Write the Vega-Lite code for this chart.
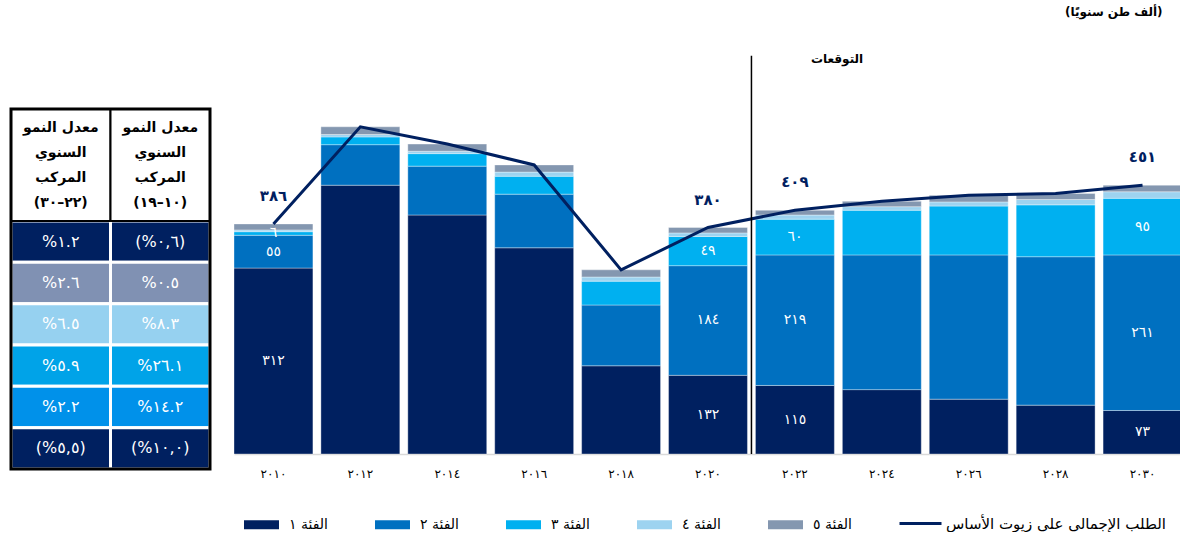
{
  "$schema": "https://vega.github.io/schema/vega-lite/v6.json",
  "padding": {"left": 9, "top": 5, "right": 0, "bottom": 0},
  "background": "white",
  "spacing": 24,
  "bounds": "flush",
  "config": {"font": "DejaVu Sans", "view": {"stroke": null}},
  "resolve": {
    "scale": {"x": "independent", "y": "independent", "fill": "independent", "stroke": "independent"},
    "legend": {"fill": "independent", "stroke": "independent"}
  },
  "datasets": {
    "bars": [
      {"year": "٢٠١٠", "group": "الفئة ١", "v": 312, "lab": "٣١٢"},
      {"year": "٢٠١٠", "group": "الفئة ٢", "v": 55, "lab": "٥٥"},
      {"year": "٢٠١٠", "group": "الفئة ٣", "v": 6, "lab": "٦"},
      {"year": "٢٠١٠", "group": "الفئة ٤", "v": 3, "lab": ""},
      {"year": "٢٠١٠", "group": "الفئة ٥", "v": 10, "lab": ""},
      {"year": "٢٠١٢", "group": "الفئة ١", "v": 451, "lab": ""},
      {"year": "٢٠١٢", "group": "الفئة ٢", "v": 68, "lab": ""},
      {"year": "٢٠١٢", "group": "الفئة ٣", "v": 13, "lab": ""},
      {"year": "٢٠١٢", "group": "الفئة ٤", "v": 4, "lab": ""},
      {"year": "٢٠١٢", "group": "الفئة ٥", "v": 13, "lab": ""},
      {"year": "٢٠١٤", "group": "الفئة ١", "v": 401, "lab": ""},
      {"year": "٢٠١٤", "group": "الفئة ٢", "v": 82, "lab": ""},
      {"year": "٢٠١٤", "group": "الفئة ٣", "v": 21, "lab": ""},
      {"year": "٢٠١٤", "group": "الفئة ٤", "v": 4, "lab": ""},
      {"year": "٢٠١٤", "group": "الفئة ٥", "v": 12, "lab": ""},
      {"year": "٢٠١٦", "group": "الفئة ١", "v": 346, "lab": ""},
      {"year": "٢٠١٦", "group": "الفئة ٢", "v": 90, "lab": ""},
      {"year": "٢٠١٦", "group": "الفئة ٣", "v": 30, "lab": ""},
      {"year": "٢٠١٦", "group": "الفئة ٤", "v": 7, "lab": ""},
      {"year": "٢٠١٦", "group": "الفئة ٥", "v": 12, "lab": ""},
      {"year": "٢٠١٨", "group": "الفئة ١", "v": 148, "lab": ""},
      {"year": "٢٠١٨", "group": "الفئة ٢", "v": 102, "lab": ""},
      {"year": "٢٠١٨", "group": "الفئة ٣", "v": 40, "lab": ""},
      {"year": "٢٠١٨", "group": "الفئة ٤", "v": 7, "lab": ""},
      {"year": "٢٠١٨", "group": "الفئة ٥", "v": 12, "lab": ""},
      {"year": "٢٠٢٠", "group": "الفئة ١", "v": 132, "lab": "١٣٢"},
      {"year": "٢٠٢٠", "group": "الفئة ٢", "v": 184, "lab": "١٨٤"},
      {"year": "٢٠٢٠", "group": "الفئة ٣", "v": 49, "lab": "٤٩"},
      {"year": "٢٠٢٠", "group": "الفئة ٤", "v": 6, "lab": ""},
      {"year": "٢٠٢٠", "group": "الفئة ٥", "v": 9, "lab": ""},
      {"year": "٢٠٢٢", "group": "الفئة ١", "v": 115, "lab": "١١٥"},
      {"year": "٢٠٢٢", "group": "الفئة ٢", "v": 219, "lab": "٢١٩"},
      {"year": "٢٠٢٢", "group": "الفئة ٣", "v": 60, "lab": "٦٠"},
      {"year": "٢٠٢٢", "group": "الفئة ٤", "v": 7, "lab": ""},
      {"year": "٢٠٢٢", "group": "الفئة ٥", "v": 8, "lab": ""},
      {"year": "٢٠٢٤", "group": "الفئة ١", "v": 108, "lab": ""},
      {"year": "٢٠٢٤", "group": "الفئة ٢", "v": 226, "lab": ""},
      {"year": "٢٠٢٤", "group": "الفئة ٣", "v": 75, "lab": ""},
      {"year": "٢٠٢٤", "group": "الفئة ٤", "v": 6, "lab": ""},
      {"year": "٢٠٢٤", "group": "الفئة ٥", "v": 9, "lab": ""},
      {"year": "٢٠٢٦", "group": "الفئة ١", "v": 92, "lab": ""},
      {"year": "٢٠٢٦", "group": "الفئة ٢", "v": 242, "lab": ""},
      {"year": "٢٠٢٦", "group": "الفئة ٣", "v": 82, "lab": ""},
      {"year": "٢٠٢٦", "group": "الفئة ٤", "v": 7, "lab": ""},
      {"year": "٢٠٢٦", "group": "الفئة ٥", "v": 11, "lab": ""},
      {"year": "٢٠٢٨", "group": "الفئة ١", "v": 82, "lab": ""},
      {"year": "٢٠٢٨", "group": "الفئة ٢", "v": 249, "lab": ""},
      {"year": "٢٠٢٨", "group": "الفئة ٣", "v": 87, "lab": ""},
      {"year": "٢٠٢٨", "group": "الفئة ٤", "v": 9, "lab": ""},
      {"year": "٢٠٢٨", "group": "الفئة ٥", "v": 10, "lab": ""},
      {"year": "٢٠٣٠", "group": "الفئة ١", "v": 73, "lab": "٧٣"},
      {"year": "٢٠٣٠", "group": "الفئة ٢", "v": 261, "lab": "٢٦١"},
      {"year": "٢٠٣٠", "group": "الفئة ٣", "v": 95, "lab": "٩٥"},
      {"year": "٢٠٣٠", "group": "الفئة ٤", "v": 11, "lab": ""},
      {"year": "٢٠٣٠", "group": "الفئة ٥", "v": 11, "lab": ""}
    ],
    "tot": [
      {"year": "٢٠١٠", "total": 386, "lab": "٣٨٦"},
      {"year": "٢٠١٢", "total": 549, "lab": ""},
      {"year": "٢٠١٤", "total": 520, "lab": ""},
      {"year": "٢٠١٦", "total": 485, "lab": ""},
      {"year": "٢٠١٨", "total": 309, "lab": ""},
      {"year": "٢٠٢٠", "total": 380, "lab": "٣٨٠"},
      {"year": "٢٠٢٢", "total": 409, "lab": "٤٠٩"},
      {"year": "٢٠٢٤", "total": 424, "lab": ""},
      {"year": "٢٠٢٦", "total": 434, "lab": ""},
      {"year": "٢٠٢٨", "total": 437, "lab": ""},
      {"year": "٢٠٣٠", "total": 451, "lab": "٤٥١"}
    ],
    "tbl": [
      {"c": 0, "r": 1, "cat": "الإجمالي", "t": "%١.٢"},
      {"c": 1, "r": 1, "cat": "الإجمالي", "t": "(%٠,٦)"},
      {"c": 0, "r": 2, "cat": "الفئة ٥", "t": "%٢.٦"},
      {"c": 1, "r": 2, "cat": "الفئة ٥", "t": "%٠.٥"},
      {"c": 0, "r": 3, "cat": "الفئة ٤", "t": "%٦.٥"},
      {"c": 1, "r": 3, "cat": "الفئة ٤", "t": "%٨.٣"},
      {"c": 0, "r": 4, "cat": "الفئة ٣", "t": "%٥.٩"},
      {"c": 1, "r": 4, "cat": "الفئة ٣", "t": "%٢٦.١"},
      {"c": 0, "r": 5, "cat": "الفئة ٢", "t": "%٢.٢"},
      {"c": 1, "r": 5, "cat": "الفئة ٢", "t": "%١٤.٢"},
      {"c": 0, "r": 6, "cat": "الفئة ١", "t": "(%٥,٥)"},
      {"c": 1, "r": 6, "cat": "الفئة ١", "t": "(%١٠,٠)"}
    ],
    "hdr": [
      {"c": 0, "t": "معدل النمو\nالسنوي\nالمركب\n(٢٢–٣٠)"},
      {"c": 1, "t": "معدل النمو\nالسنوي\nالمركب\n(١٠–١٩)"}
    ]
  },
  "hconcat": [
    {
      "width": 199,
      "height": 462,
      "layer": [
        {
          "data": {"name": "tbl"},
          "transform": [
            {"calculate": "datum.c + 1", "as": "c2"},
            {"calculate": "datum.r - 1", "as": "r0"}
          ],
          "mark": {"type": "rect", "stroke": "white", "strokeWidth": 3},
          "encoding": {
            "x": {"field": "c", "type": "quantitative", "scale": {"domain": [0, 2], "nice": false, "zero": false}, "axis": null},
            "x2": {"field": "c2"},
            "y": {"field": "r0", "type": "quantitative", "scale": {"domain": [-5.178, 6], "nice": false, "zero": false, "reverse": true}, "axis": null},
            "y2": {"field": "r"},
            "fill": {
              "field": "cat", "type": "nominal", "legend": null,
              "scale": {
                "domain": ["الإجمالي", "الفئة ٥", "الفئة ٤", "الفئة ٣", "الفئة ٢", "الفئة ١"],
                "range": ["#002060", "#8091b3", "#96d1f0", "#00a3e8", "#0091ea", "#002060"]
              }
            }
          }
        },
        {
          "data": {"name": "tbl"},
          "transform": [
            {"calculate": "datum.c + 0.5", "as": "cx"},
            {"calculate": "datum.r - 0.5", "as": "cy"}
          ],
          "mark": {"type": "text", "color": "white", "fontSize": 16, "align": "center", "baseline": "middle"},
          "encoding": {
            "x": {"field": "cx", "type": "quantitative"},
            "y": {"field": "cy", "type": "quantitative"},
            "text": {"field": "t"}
          }
        },
        {
          "data": {"name": "hdr"},
          "transform": [{"calculate": "datum.c + 1", "as": "c2"}],
          "mark": {"type": "rect", "fill": "white", "stroke": "black", "strokeWidth": 2},
          "encoding": {
            "x": {"field": "c", "type": "quantitative"},
            "x2": {"field": "c2"},
            "y": {"datum": -2.71},
            "y2": {"datum": 0}
          }
        },
        {
          "data": {"name": "hdr"},
          "transform": [{"calculate": "datum.c + 0.5", "as": "cx"}],
          "mark": {"type": "text", "color": "black", "fontSize": 14, "fontWeight": "bold", "lineBreak": "\n", "lineHeight": 25, "align": "center", "baseline": "middle"},
          "encoding": {
            "x": {"field": "cx", "type": "quantitative"},
            "y": {"datum": -2.262},
            "text": {"field": "t"}
          }
        },
        {
          "data": {"values": [{}]},
          "mark": {"type": "rect", "fillOpacity": 0, "stroke": "black", "strokeWidth": 3},
          "encoding": {
            "x": {"datum": 0},
            "x2": {"datum": 2},
            "y": {"datum": -2.71},
            "y2": {"datum": 6}
          }
        }
      ]
    },
    {
      "width": 948,
      "height": 447,
      "layer": [
        {
          "data": {"name": "bars"},
          "transform": [
            {"stack": "v", "groupby": ["year"], "sort": [{"field": "group", "order": "ascending"}], "as": ["v0", "v1"]}
          ],
          "mark": {"type": "bar", "stroke": "white", "strokeOpacity": 0.35, "strokeWidth": 1},
          "encoding": {
            "x": {
              "field": "year", "type": "ordinal",
              "scale": {"domain": ["٢٠١٠", "٢٠١٢", "٢٠١٤", "٢٠١٦", "٢٠١٨", "٢٠٢٠", "٢٠٢٢", "٢٠٢٤", "٢٠٢٦", "٢٠٢٨", "٢٠٣٠"], "paddingInner": 0.092, "paddingOuter": 0},
              "axis": {"title": null, "labelAngle": 0, "ticks": false, "domainColor": "#d9d9d9", "domainWidth": 1.5, "labelFontSize": 12, "labelColor": "#000000", "labelPadding": 14}
            },
            "y": {"field": "v0", "type": "quantitative", "scale": {"domain": [0, 750], "nice": false, "zero": true}, "axis": null},
            "y2": {"field": "v1"},
            "fill": {
              "field": "group", "type": "nominal",
              "scale": {
                "domain": ["الفئة ١", "الفئة ٢", "الفئة ٣", "الفئة ٤", "الفئة ٥"],
                "range": ["#002060", "#0070c0", "#00b0f0", "#9dd3f0", "#8497b0"]
              },
              "legend": {
                "orient": "none", "legendX": 10, "legendY": 500, "direction": "horizontal", "columns": 5, "gridAlign": "all",
                "title": null, "symbolType": "M-1,-0.26H1V0.26H-1Z", "symbolSize": 1225, "symbolStrokeWidth": 0,
                "labelFontSize": 14, "labelColor": "#000000", "labelOffset": 10, "columnPadding": 47, "labelLimit": 200
              }
            }
          }
        },
        {
          "data": {"name": "bars"},
          "transform": [
            {"stack": "v", "groupby": ["year"], "sort": [{"field": "group", "order": "ascending"}], "as": ["v0", "v1"]},
            {"calculate": "(datum.v0 + datum.v1) / 2", "as": "vm"},
            {"filter": "datum.lab != ''"}
          ],
          "mark": {"type": "text", "color": "white", "fontSize": 14, "baseline": "middle", "align": "center"},
          "encoding": {
            "x": {"field": "year", "type": "ordinal"},
            "y": {"field": "vm", "type": "quantitative"},
            "text": {"field": "lab"}
          }
        },
        {
          "data": {"name": "tot"},
          "mark": {"type": "line", "strokeWidth": 3},
          "encoding": {
            "x": {"field": "year", "type": "ordinal"},
            "y": {"field": "total", "type": "quantitative"},
            "stroke": {
              "datum": "الطلب الإجمالي على زيوت الأساس",
              "scale": {"range": ["#002060"]},
              "legend": {
                "orient": "none", "legendX": 664, "legendY": 494, "title": null,
                "symbolType": "stroke", "symbolSize": 1764, "symbolStrokeWidth": 3,
                "labelFontSize": 15, "labelColor": "#000000", "labelOffset": 3, "labelLimit": 400
              }
            }
          }
        },
        {
          "data": {"name": "tot"},
          "transform": [{"filter": "datum.lab != ''"}],
          "mark": {"type": "text", "color": "#002060", "fontSize": 15, "fontWeight": "bold", "dy": -28, "baseline": "middle", "align": "center"},
          "encoding": {
            "x": {"field": "year", "type": "ordinal"},
            "y": {"field": "total", "type": "quantitative"},
            "text": {"field": "lab"}
          }
        },
        {
          "data": {"values": [{"year": "٢٠٢٢"}]},
          "mark": {"type": "rule", "color": "black", "strokeWidth": 1.5, "xOffset": -4},
          "encoding": {
            "x": {"field": "year", "type": "ordinal", "bandPosition": 0},
            "y": {"datum": 0},
            "y2": {"datum": 668}
          }
        },
        {
          "data": {"values": [{"year": "٢٠٢٢", "t": "التوقعات"}]},
          "mark": {"type": "text", "color": "black", "fontSize": 12, "fontWeight": "bold", "align": "left", "dx": 16, "baseline": "middle"},
          "encoding": {
            "x": {"field": "year", "type": "ordinal"},
            "y": {"datum": 663},
            "text": {"field": "t"}
          }
        },
        {
          "data": {"values": [{"year": "٢٠٣٠", "t": "(ألف طن سنويًا)"}]},
          "mark": {"type": "text", "color": "black", "fontSize": 12, "fontWeight": "bold", "align": "right", "dx": 20, "baseline": "middle"},
          "encoding": {
            "x": {"field": "year", "type": "ordinal"},
            "y": {"datum": 742},
            "text": {"field": "t"}
          }
        }
      ]
    }
  ]
}
